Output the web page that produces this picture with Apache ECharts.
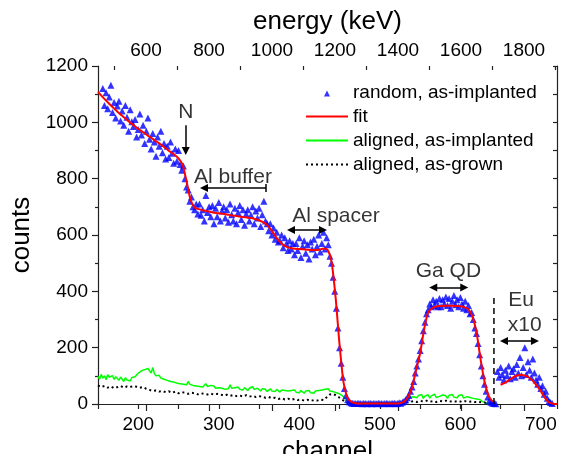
<!DOCTYPE html>
<html><head><meta charset="utf-8">
<script src="https://cdn.jsdelivr.net/npm/echarts@6/dist/echarts.min.js"></script>
<style>html,body{margin:0;padding:0;background:#fff}#c{width:564px;height:454px}</style>
</head><body><div id="c"></div>
<script>
// ---- axes ----
const channelMin = 150, channelMax = 720;
const energyMin = 447.6, energyMax = 1904.8;
const energyMajorTicks = [600, 800, 1000, 1200, 1400, 1600, 1800];
const energyMinorTicks = [500, 700, 900, 1100, 1300, 1500, 1700, 1900];

// ---- random, as-implanted (blue triangles), channel 156.. step 2 ----
const randomStart = 156, randomStep = 2;
const randomCounts = [
  1120, 1060, 1105, 1048, 1090, 1132, 1035, 1070, 1015, 1058,
  1075, 1005, 1040, 990, 1060, 1018, 968, 1045, 1002, 985,
  1010, 948, 975, 1030, 955, 990, 925, 968, 1015, 940,
  905, 960, 930, 880, 948, 915, 968, 892, 925, 870,
  915, 875, 930, 890, 855, 905, 862, 900, 850, 830,
  845, 800, 770, 760, 720, 735, 700, 690, 710, 675,
  710, 670, 690, 650, 740, 680, 700, 665, 705, 640,
  695, 665, 715, 650, 685, 700, 660, 690, 645, 710,
  672, 650, 695, 640, 680, 705, 655, 690, 635, 675,
  690, 650, 670, 700, 640, 685, 660, 695, 630, 672,
  720, 650, 640, 615, 640, 600, 625, 585, 610, 575,
  580, 600, 555, 590, 570, 545, 580, 550, 570, 530,
  570, 545, 590, 520, 560, 580, 535, 565, 515, 575,
  550, 585, 530, 560, 600, 540, 570, 610, 550, 590,
  565, 525, 500, 450, 400, 340, 270, 200, 145, 95,
  55, 30, 15, 8, 4, 3, 2, 2, 2, 3,
  2, 1, 3, 2, 1, 2, 3, 1, 2, 2,
  1, 3, 2, 2, 1, 2, 3, 2, 1, 2,
  2, 3, 1, 2, 4, 3, 6, 10, 15, 22,
  30, 45, 60, 80, 110, 135, 160, 190, 225, 260,
  290, 320, 335, 355, 345, 370, 350, 365, 345, 375,
  345, 370, 355, 380, 350, 375, 340, 365, 385, 352,
  370, 345, 378, 355, 340, 365, 335, 350, 320, 325,
  300, 270, 250, 215, 175, 135, 100, 70, 45, 25,
  12, 6, 3, 2, 1,
  115, 95, 130, 105, 85, 120, 100, 135, 90, 115,
  125, 95, 140, 110, 165, 100, 130, 200, 105, 150,
  120, 95, 160, 110, 85, 70, 95, 55, 65, 35,
  45, 20, 10, 5, 2
];

// ---- fit (red), channel 150.. step 5 ----
const fitStart = 150, fitStep = 5;
const fitCounts = [
  1108, 1092, 1077, 1063, 1049, 1036, 1023, 1011, 999, 988,
  977, 967, 957, 947, 937, 927, 917, 906, 895, 885,
  872, 850, 790, 725, 697, 692, 688, 685, 682, 679,
  677, 675, 673, 670, 668, 666, 664, 662, 660, 657,
  652, 646, 636, 618, 597, 578, 565, 557, 553, 551,
  550, 549, 548, 547, 547, 548, 552, 548, 505, 380,
  210, 75, 22, 7, 3, 2, 2, 2, 2, 2,
  2, 2, 2, 2, 2, 3, 8, 25, 60, 120,
  180, 265, 325, 340, 346, 348, 349, 349, 349, 348,
  347, 344, 336, 310, 255, 160, 80, 30, 8, null,
  68, 75, 84, 94, 101, 103, 101, 94, 82, 65,
  45, 22, 6, 1, 0
];

// ---- aligned, as-implanted (green), channel 150.. step 2 ----
const alignedImplStart = 150, alignedImplStep = 2;
const alignedImplCounts = [
  98, 88, 105, 92, 100, 86, 104, 95, 90, 101, 87, 97, 92, 84, 96, 89, 80, 93, 85, 90, 82, 94, 88, 97, 104,
  110, 105, 118, 112, 122, 115, 126, 118, 110, 130, 108, 100, 95, 102, 92, 96,
  88, 94, 84, 90, 80, 86, 78, 84, 74, 80, 72, 78, 70, 76, 68, 80, 70, 74, 66, 72, 64, 70, 62, 68, 60, 66, 72, 62, 58, 66, 60, 64, 56, 62, 58,
  64, 56, 60, 52, 58, 54, 68, 56, 50, 58, 54, 60, 52, 56, 50, 58, 52, 48, 56, 50, 62, 52, 48, 56, 50, 46, 54, 48, 52, 44, 50, 54, 46, 50, 44, 52, 46, 42, 50, 44,
  48, 42, 46, 40, 48, 44, 50, 42, 46, 40, 48, 44, 38, 46, 42, 48, 40, 44, 38, 46, 42, 48, 44, 50, 46, 52, 48, 54, 46, 50,
  44, 48, 40, 44, 36, 38, 28, 22, 14, 8, 5, 3,
  3, 2, 4, 2, 3, 5, 2, 3, 4, 2, 3, 2, 4, 3, 2, 5, 3, 2, 4, 3, 2, 3, 4, 2, 3, 5, 2, 4, 3, 2, 4, 6, 8, 12, 16, 20, 24, 28,
  26, 32, 22, 30, 24, 34, 20, 28, 25, 33, 21, 29, 26, 35, 23, 30, 27, 22, 32, 25, 29, 20, 31, 26, 34, 24, 28, 22, 30, 25, 33, 21, 28, 26, 31, 23, 27, 20, 25, 18, 22, 16, 12,
  8, 5, 3, 2, 1, 0, 0, 0, 0
];

// ---- aligned, as-grown (black dotted), channel 150.. step 4 ----
const alignedGrownStart = 150, alignedGrownStep = 4;
const alignedGrownCounts = [
  66, 60, 64, 58, 62, 56, 60, 64, 58, 62, 60, 64, 61,
  58, 60, 54, 50, 46, 48, 44, 46, 42, 45,
  40, 44, 38, 42, 40, 36, 40, 38, 34, 38, 36, 34, 37, 33, 36,
  34, 30, 33, 29, 32, 28, 30, 27, 31, 26, 29, 25, 28,
  26, 22, 25, 20, 22, 18, 21, 16, 19, 15, 18, 14,
  16, 12, 15, 11, 14, 12, 16, 14,
  24, 34, 36, 30, 22, 14, 6, 2,
  2, 1, 2, 1, 2, 2, 1, 2, 1, 2, 2, 1, 2, 1, 2, 3, 4, 6,
  8, 10, 7, 11, 9, 12, 8, 10, 7, 11, 9, 12, 8, 10, 9, 11, 7, 10, 8, 9, 7, 8, 6, 5,
  3, 1, 0
];

// ---- Eu boundary (dashed) ----
const euBoundaryChannel = 641.7, euBoundaryTop = 387;

// ---- annotation texts (channel, counts) ----
const noteTexts = ['N', 'Al buffer', 'Al spacer', 'Ga QD', 'Eu', 'x10'];
const noteChannels = [259, 317.6, 445.5, 585.2, 675.3, 680];
const noteCounts = [1035, 806, 667, 472, 369, 280];

// ---- annotation arrows: [fromCh, fromCounts, toCh, toCounts, headStart, headEnd] ----
const arrowSegs = [
  [259, 990, 259, 898, 'none', 'triangle'],
  [358.6, 767, 281.6, 767, 'none', 'triangle'],
  [358.6, 781, 358.6, 753, 'none', 'none'],
  [389.7, 618, 429.4, 618, 'triangle', 'triangle'],
  [566.3, 414, 604.8, 414, 'triangle', 'triangle'],
  [654.2, 224, 692.6, 224, 'triangle', 'triangle']
];

const toXY = (start, step, arr) => arr.map((v, i) => [start + i * step, v]);
const plain = v => String(v);

const font = "'Liberation Sans', Arial, sans-serif";
const chart = echarts.init(document.getElementById('c'), null, { renderer: 'canvas' });
const noSymbol = { color: 'rgba(0,0,0,0)', borderWidth: 0, opacity: 0 };

const option = {
  animation: false,
  backgroundColor: '#fff',
  textStyle: { fontFamily: font, color: '#000' },
  grid: { left: 98, right: 7, top: 66, bottom: 50, containLabel: false, outerBoundsMode: 'none' },
  legend: {
    orient: 'vertical', left: 300, top: 78, itemWidth: 42, itemHeight: 10, itemGap: 5,
    selectedMode: false,
    textStyle: { fontSize: 19, fontFamily: font, color: '#000' },
    data: [
      { name: 'random, as-implanted', icon: 'path://M0,0M42,10M18,9L21,3L24,9Z' },
      { name: 'fit', itemStyle: noSymbol },
      { name: 'aligned, as-implanted', itemStyle: noSymbol },
      { name: 'aligned, as-grown', itemStyle: noSymbol }
    ]
  },
  xAxis: [
    {
      type: 'value', position: 'bottom', min: channelMin, max: channelMax, interval: 50,
      axisLine: { show: true, lineStyle: { color: '#222', width: 1.2 } },
      axisTick: { show: true, inside: false, length: 5, lineStyle: { color: '#222', width: 1.2 } },
      axisLabel: { fontSize: 19, color: '#000', margin: 11, formatter: v => (v % 100 === 0 ? String(v) : '') },
      splitLine: { show: false },
      name: 'channel', nameLocation: 'middle', nameGap: 29,
      nameTextStyle: { fontSize: 26, color: '#000', fontFamily: font }
    },
    {
      type: 'value', position: 'top', min: energyMin, max: energyMax,
      axisLine: { show: true, lineStyle: { color: '#222', width: 1.2 } },
      axisTick: { show: true, inside: true, length: 7, customValues: energyMajorTicks, lineStyle: { color: '#222', width: 1.2 } },
      axisLabel: { fontSize: 19, color: '#000', margin: 6, customValues: energyMajorTicks, formatter: plain },
      splitLine: { show: false },
      name: 'energy (keV)', nameLocation: 'middle', nameGap: 31,
      nameTextStyle: { fontSize: 26, color: '#000', fontFamily: font }
    },
    {
      type: 'value', position: 'top', min: energyMin, max: energyMax,
      axisLine: { show: false },
      axisTick: { show: true, inside: true, length: 4, customValues: energyMinorTicks, lineStyle: { color: '#222', width: 1.2 } },
      axisLabel: { show: false },
      splitLine: { show: false }
    }
  ],
  yAxis: [
    {
      type: 'value', position: 'left', min: 0, max: 1200, interval: 200,
      axisLine: { show: true, lineStyle: { color: '#222', width: 1.2 } },
      axisTick: { show: true, inside: false, length: 6, lineStyle: { color: '#222', width: 1.2 } },
      minorTick: { show: true, splitNumber: 2, length: 3, lineStyle: { color: '#222', width: 1.2 } },
      axisLabel: { fontSize: 19, color: '#000', margin: 10, formatter: plain },
      splitLine: { show: false },
      name: 'counts', nameLocation: 'middle', nameGap: 60,
      nameTextStyle: { fontSize: 26, color: '#000', fontFamily: font }
    },
    {
      type: 'value', position: 'right', min: 0, max: 1200, interval: 100,
      axisLine: { show: true, lineStyle: { color: '#222', width: 1.2 } },
      axisTick: { show: true, inside: true, length: 4, lineStyle: { color: '#222', width: 1.2 } },
      axisLabel: { show: false },
      splitLine: { show: false }
    }
  ],
  series: [
    {
      name: 'aligned, as-implanted', type: 'line', xAxisIndex: 0, yAxisIndex: 0,
      data: toXY(alignedImplStart, alignedImplStep, alignedImplCounts),
      symbol: 'none', lineStyle: { color: '#00ff00', width: 1.5 }, itemStyle: { color: '#00ff00' }, z: 2
    },
    {
      name: 'aligned, as-grown', type: 'line', xAxisIndex: 0, yAxisIndex: 0,
      data: toXY(alignedGrownStart, alignedGrownStep, alignedGrownCounts),
      symbol: 'none', lineStyle: { color: '#000', width: 2, type: [2, 3] }, itemStyle: { color: '#000' }, z: 2
    },
    {
      name: 'random, as-implanted', type: 'scatter', xAxisIndex: 0, yAxisIndex: 0,
      data: toXY(randomStart, randomStep, randomCounts),
      symbol: 'triangle', symbolSize: 7, itemStyle: { color: '#0000ff' }, z: 3
    },
    {
      name: 'fit', type: 'line', xAxisIndex: 0, yAxisIndex: 0,
      data: toXY(fitStart, fitStep, fitCounts), connectNulls: false, smooth: 0.25,
      symbol: 'none', lineStyle: { color: '#ff0000', width: 2 }, itemStyle: { color: '#ff0000' }, z: 4
    },
    {
      name: 'Eu boundary', type: 'line', xAxisIndex: 0, yAxisIndex: 0,
      data: [[euBoundaryChannel, 0], [euBoundaryChannel, euBoundaryTop]],
      symbol: 'none', lineStyle: { color: '#000', width: 1.5, type: [6, 4] }, z: 5, silent: true
    },
    {
      name: 'arrows', type: 'line', xAxisIndex: 0, yAxisIndex: 0, data: [], silent: true,
      markLine: {
        silent: true, animation: false, symbolSize: 8,
        label: { show: false },
        lineStyle: { color: '#000', width: 1.5, type: 'solid' },
        emphasis: { disabled: true },
        data: arrowSegs.map(a => [
          { coord: [a[0], a[1]], symbol: a[4], symbolSize: 8 },
          { coord: [a[2], a[3]], symbol: a[5], symbolSize: 8 }
        ])
      }
    },
    {
      name: 'notes', type: 'scatter', xAxisIndex: 0, yAxisIndex: 0, silent: true,
      symbolSize: 1, itemStyle: { color: 'rgba(0,0,0,0)' }, z: 6,
      data: noteTexts.map((t, i) => ({ name: t, value: [noteChannels[i], noteCounts[i]] })),
      label: { show: true, position: 'inside', formatter: p => p.name, fontSize: 21, color: '#000',
               textBorderWidth: 0, textBorderColor: 'transparent', fontFamily: font }
    }
  ]
};
chart.setOption(option);
</script></body></html>
